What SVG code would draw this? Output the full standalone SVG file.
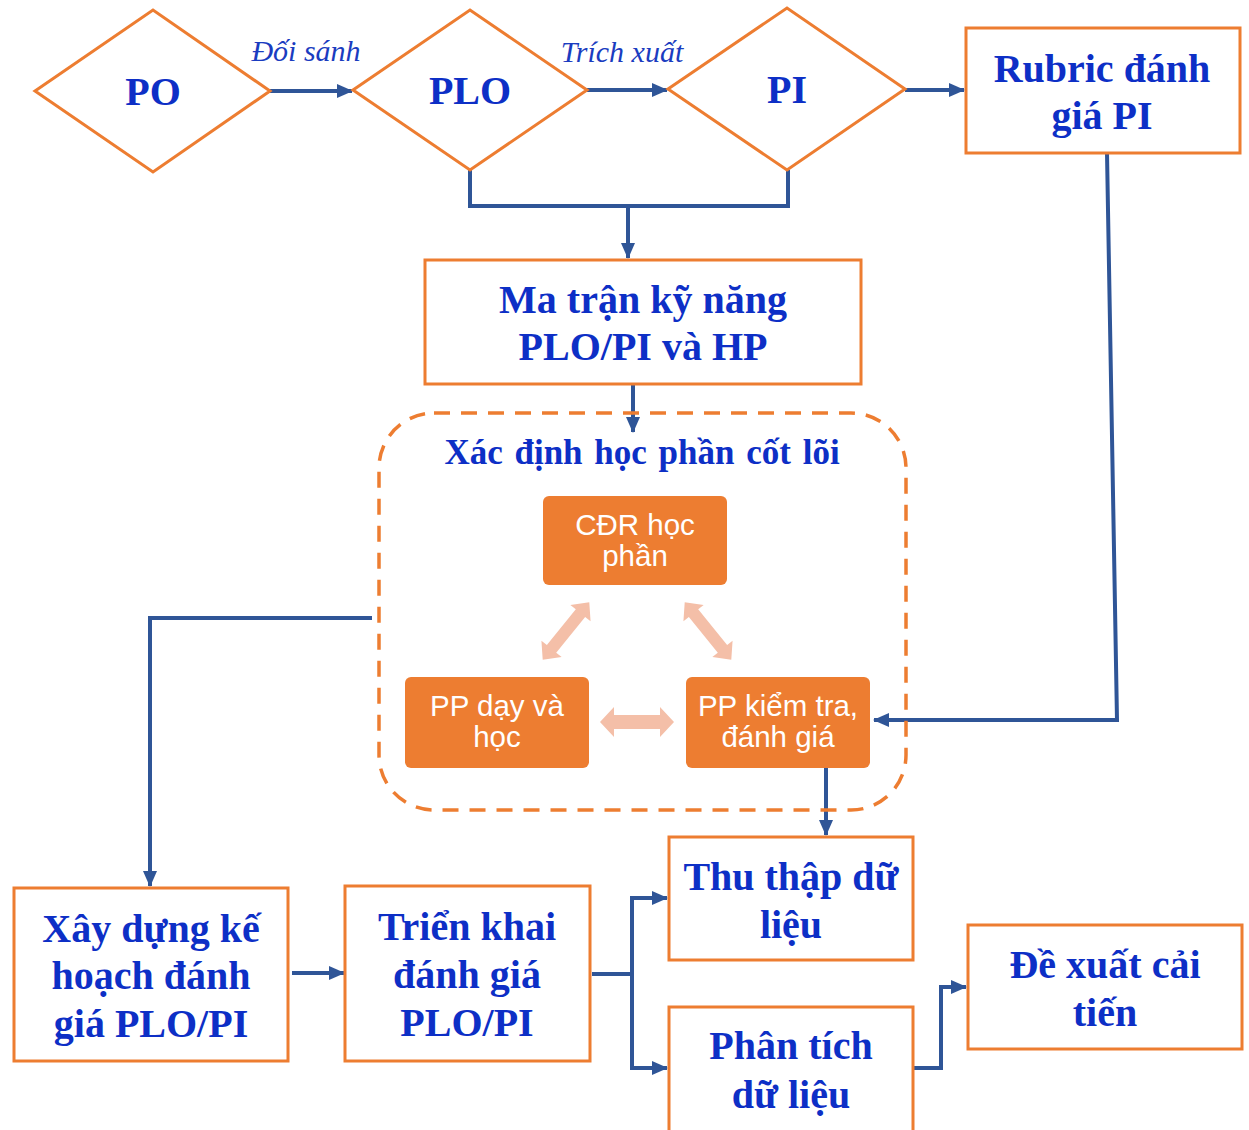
<svg xmlns="http://www.w3.org/2000/svg" width="1249" height="1130" viewBox="0 0 1249 1130">
<style>
.shape{fill:#fff;stroke:#ED7D31;stroke-width:3}
.t{font-family:"Liberation Serif",serif;font-weight:bold;fill:#0D2FC6;text-anchor:middle;font-size:40px}
.lbl{font-family:"Liberation Serif",serif;font-style:italic;fill:#1A3CC0;font-size:30px;text-anchor:middle}
.inner{fill:#ED7D31;stroke:none}
.it{font-family:"Liberation Sans",Arial,sans-serif;fill:#fff;font-size:29.5px;text-anchor:middle}
.c{fill:none;stroke:#2F5597;stroke-width:4}
.dbl{fill:#F4BFA8}
</style>
<defs>
<marker id="ah" markerUnits="userSpaceOnUse" markerWidth="18" markerHeight="16" refX="15" refY="8" orient="auto">
<path d="M0,1 L16,8 L0,15 Z" fill="#2F5597"/>
</marker>
</defs>
<rect width="1249" height="1130" fill="#fff"/>

<g id="connectors">
<line class="c" x1="270" y1="91" x2="352" y2="91" marker-end="url(#ah)"/>
<line class="c" x1="587" y1="90" x2="667" y2="90" marker-end="url(#ah)"/>
<line class="c" x1="905" y1="90" x2="964" y2="90" marker-end="url(#ah)"/>
<polyline class="c" points="470,170 470,206 788,206 788,170"/>
<line class="c" x1="628" y1="206" x2="628" y2="258" marker-end="url(#ah)"/>
<line class="c" x1="633" y1="384" x2="633" y2="432" marker-end="url(#ah)"/>
<polyline class="c" points="1107,153 1117,720 874,720" marker-end="url(#ah)"/>
<polyline class="c" points="372,618 150,618 150,886" marker-end="url(#ah)"/>
<line class="c" x1="826" y1="768" x2="826" y2="835" marker-end="url(#ah)"/>
<line class="c" x1="292" y1="973" x2="344" y2="973" marker-end="url(#ah)"/>
<polyline class="c" points="592,974 632,974"/>
<polyline class="c" points="667,898 632,898 632,1068 667,1068" marker-end="url(#ah)"/>
<line class="c" x1="632" y1="898" x2="667" y2="898" marker-end="url(#ah)"/>
<polyline class="c" points="913,1068 941,1068 941,987 966,987" marker-end="url(#ah)"/>
<text class="lbl" x="306" y="61">Đối sánh</text>
<text class="lbl" x="622" y="62">Trích xuất</text>
</g>

<g id="node-po">
<polygon class="shape" points="35,91 153,10 270,91 153,172"/>
<text class="t" x="153" y="105">PO</text>
</g>
<g id="node-plo">
<polygon class="shape" points="353,90 470,10 587,90 470,170"/>
<text class="t" x="470" y="104">PLO</text>
</g>
<g id="node-pi">
<polygon class="shape" points="668,89 787,8 905,89 787,170"/>
<text class="t" x="787" y="103">PI</text>
</g>
<g id="node-rubric">
<rect class="shape" x="966" y="28" width="274" height="125"/>
<text class="t" x="1102" y="82">Rubric đánh</text>
<text class="t" x="1102" y="129">giá PI</text>
</g>
<g id="node-matran">
<rect class="shape" x="425" y="260" width="436" height="124"/>
<text class="t" x="643" y="313">Ma trận kỹ năng</text>
<text class="t" x="643" y="360">PLO/PI và HP</text>
</g>

<g id="node-core">
<rect x="379" y="413" width="527" height="397" rx="55" fill="none" stroke="#ED7D31" stroke-width="3.5" stroke-dasharray="16,11"/>
<text class="t" x="642" y="464" font-size="35" word-spacing="3" style="font-size:35px">Xác định học phần cốt lõi</text>
</g>
<g id="node-cdr">
<rect class="inner" x="543" y="496" width="184" height="89" rx="6"/>
<text class="it" x="635" y="535">CĐR học</text>
<text class="it" x="635" y="566">phần</text>
</g>
<g id="node-ppday">
<rect class="inner" x="405" y="677" width="184" height="91" rx="6"/>
<text class="it" x="497" y="716">PP dạy và</text>
<text class="it" x="497" y="747">học</text>
</g>
<g id="node-ppkt">
<rect class="inner" x="686" y="677" width="184" height="91" rx="6"/>
<text class="it" x="778" y="716">PP kiểm tra,</text>
<text class="it" x="778" y="747">đánh giá</text>
</g>
<g id="double-arrows">
<g transform="translate(566,631) rotate(-51)">
<polygon class="dbl" points="-37,0 -23,-13 -23,-6 23,-6 23,-13 37,0 23,13 23,6 -23,6 -23,13"/>
</g>
<g transform="translate(708,631) rotate(51)">
<polygon class="dbl" points="-37,0 -23,-13 -23,-6 23,-6 23,-13 37,0 23,13 23,6 -23,6 -23,13"/>
</g>
<g transform="translate(637,722)">
<polygon class="dbl" points="-37,0 -23,-15 -23,-7 23,-7 23,-15 37,0 23,15 23,7 -23,7 -23,15"/>
</g>
</g>

<g id="node-xaydung">
<rect class="shape" x="14" y="888" width="274" height="173"/>
<text class="t" x="151" y="942">Xây dựng kế</text>
<text class="t" x="151" y="989">hoạch đánh</text>
<text class="t" x="151" y="1037">giá PLO/PI</text>
</g>
<g id="node-trienkhai">
<rect class="shape" x="345" y="886" width="245" height="175"/>
<text class="t" x="467" y="940">Triển khai</text>
<text class="t" x="467" y="988">đánh giá</text>
<text class="t" x="467" y="1036">PLO/PI</text>
</g>
<g id="node-thuthap">
<rect class="shape" x="669" y="837" width="244" height="123"/>
<text class="t" x="791" y="890">Thu thập dữ</text>
<text class="t" x="791" y="938">liệu</text>
</g>
<g id="node-phantich">
<rect class="shape" x="669" y="1007" width="244" height="125"/>
<text class="t" x="791" y="1059">Phân tích</text>
<text class="t" x="791" y="1108">dữ liệu</text>
</g>
<g id="node-dexuat">
<rect class="shape" x="968" y="925" width="274" height="124"/>
<text class="t" x="1105" y="978">Đề xuất cải</text>
<text class="t" x="1105" y="1026">tiến</text>
</g>
</svg>
